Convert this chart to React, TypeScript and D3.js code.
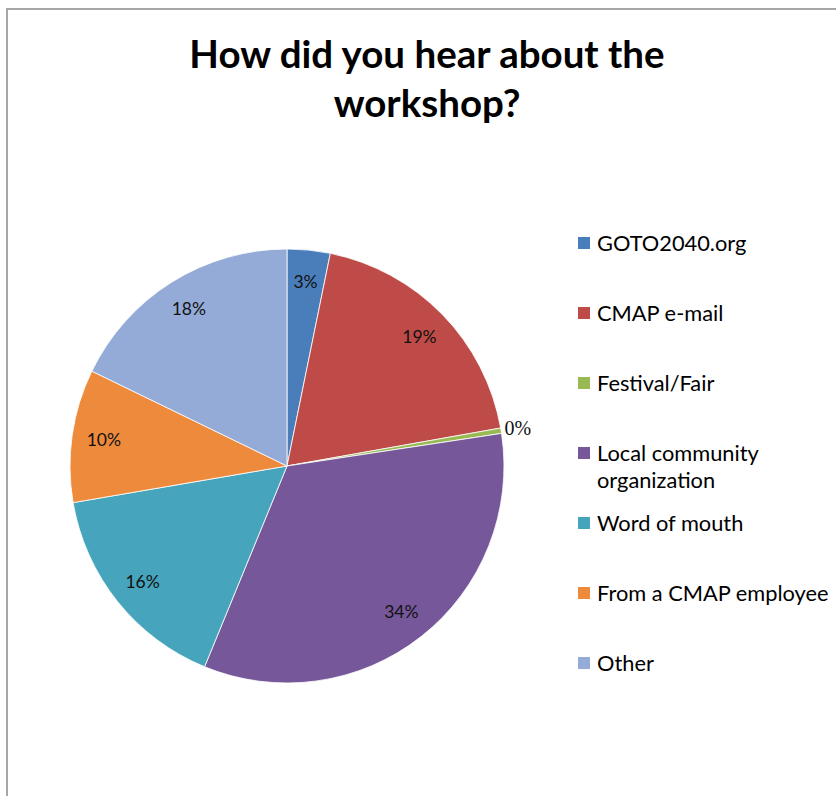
import React, { useEffect, useRef } from 'react';
import * as d3 from 'd3';

// survey answers, share of respondents (%)
const categories = [
    'GOTO2040.org',
    'CMAP e-mail',
    'Festival/Fair',
    'Local community organization',
    'Word of mouth',
    'From a CMAP employee',
    'Other',
];
const shares = [3.2, 19.0, 0.4, 33.6, 16.1, 9.9, 17.8];
const colors = ['#4A7EBB', '#BE4B48', '#98B954', '#76589A', '#46A5BC', '#EE8A3C', '#94ABD8'];
// legend text, wrapped the way the original legend wraps
const legendLines = [
    ['GOTO2040.org'],
    ['CMAP e-mail'],
    ['Festival/Fair'],
    ['Local community', 'organization'],
    ['Word of mouth'],
    ['From a CMAP employee'],
    ['Other'],
];
const titleLines = ['How did you hear about the', 'workshop?'];

interface Slice {
    name: string;
    value: number;
    color: string;
}

const PieChart: React.FC<{ width?: number; height?: number }> = ({ width = 836, height = 796 }) => {
    const svgRef = useRef<SVGSVGElement>(null);

    useEffect(() => {
        if (!svgRef.current) return;
        const svg = d3.select(svgRef.current);
        svg.selectAll('*').remove();

        const font = 'Lato, "Open Sans", sans-serif';

        // chart frame (runs off the right and bottom of the window)
        svg.append('path')
            .attr('d', `M7,${height + 5} V9 H${width + 5}`)
            .attr('fill', 'none')
            .attr('stroke', '#A6A6A6')
            .attr('stroke-width', 2);

        // Title
        svg.append('g')
            .selectAll('text')
            .data(titleLines)
            .join('text')
            .attr('x', 427)
            .attr('y', (_, i) => 68 + i * 49)
            .attr('text-anchor', 'middle')
            .attr('font-family', font)
            .attr('font-weight', 'bold')
            .attr('font-size', 38.5)
            .attr('fill', '#000')
            .text(d => d);

        const data: Slice[] = categories.map((name, i) => ({ name, value: shares[i], color: colors[i] }));
        const total = d3.sum(shares);

        const cx = 287;
        const cy = 466;
        const radius = 217;

        const pie = d3.pie<Slice>().sort(null).value(d => d.value);
        const arcs = pie(data);
        const arc = d3.arc<d3.PieArcDatum<Slice>>().innerRadius(0).outerRadius(radius);
        const labelArc = d3.arc<d3.PieArcDatum<Slice>>().innerRadius(185).outerRadius(185);
        const outerLabelArc = d3.arc<d3.PieArcDatum<Slice>>().innerRadius(234).outerRadius(234);

        const g = svg.append('g').attr('transform', `translate(${cx},${cy})`);

        g.selectAll('path')
            .data(arcs)
            .join('path')
            .attr('d', arc)
            .attr('fill', d => d.data.color)
            .attr('stroke', '#fff')
            .attr('stroke-width', 0.8)
            .attr('stroke-linejoin', 'round');

        // Data labels: tiny slices get theirs outside the pie
        g.selectAll('text')
            .data(arcs)
            .join('text')
            .each(function (d) {
                const small = d.data.value / total < 0.02;
                const [x, y] = (small ? outerLabelArc : labelArc).centroid(d);
                d3.select(this)
                    .attr('x', x)
                    .attr('y', y)
                    .attr('dy', '0.35em')
                    .attr('text-anchor', 'middle')
                    .attr('font-family', small ? '"Liberation Serif", serif' : font)
                    .attr('font-size', small ? 20 : 17.5)
                    .attr('fill', '#111')
                    .text(`${Math.round((d.data.value / total) * 100)}%`);
            });

        // Legend
        const legendY = d3.scaleLinear().domain([0, 1]).range([243, 313]);
        const legend = svg.append('g');
        const items = legend.selectAll('g')
            .data(data)
            .join('g')
            .attr('transform', (_, i) => `translate(578,${legendY(i)})`);

        items.append('rect')
            .attr('x', 0)
            .attr('y', -6)
            .attr('width', 12)
            .attr('height', 12)
            .attr('fill', d => d.color);

        items.each(function (_, i) {
            d3.select(this).selectAll('text')
                .data(legendLines[i])
                .join('text')
                .attr('x', 19)
                .attr('y', (_, j) => j * 27)
                .attr('dy', '0.36em')
                .attr('font-family', font)
                .attr('font-size', 21.8)
                .attr('fill', '#000')
                .text(t => t);
        });
    }, [width, height]);

    return (
        <svg
            ref={svgRef}
            width={width}
            height={height}
            style={{ position: 'absolute', left: 0, top: 0, display: 'block', background: '#fff' }}
        />
    );
};

export default function App() {
    return <PieChart />;
}
